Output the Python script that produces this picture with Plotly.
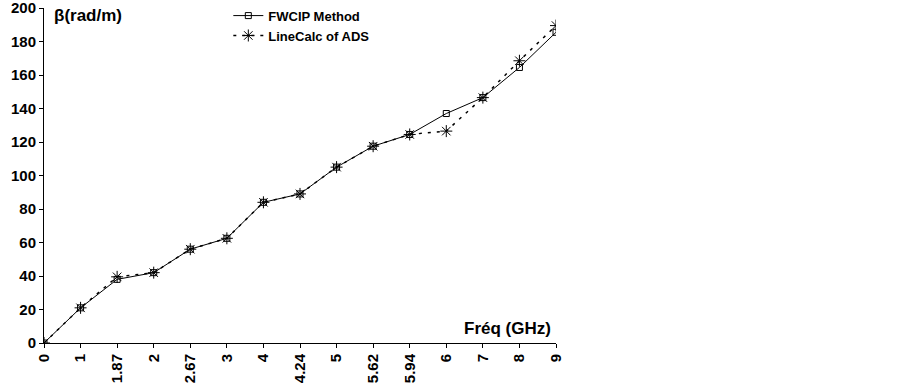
import plotly.graph_objects as go

freq_labels = ["0", "1", "1.87", "2", "2.67", "3", "4", "4.24", "5", "5.62", "5.94", "6", "7", "8", "9"]
fwcip = [0, 21, 38, 42, 56, 62.5, 84, 89, 105, 117.5, 124.5, 137, 146.5, 164.5, 185.5]
linecalc = [0, 21, 39.5, 42, 56, 62.5, 84, 89, 105, 117.5, 124.5, 126.5, 146.5, 168.5, 189.5]
y_ticks = list(range(0, 201, 20))

FONT = "Liberation Sans, Arial, sans-serif"

fig = go.Figure()
fig.add_trace(go.Scatter(
    x=freq_labels, y=fwcip, name="FWCIP Method", mode="lines+markers",
    line=dict(color="black", width=1),
    marker=dict(symbol="square-open", size=6, color="black", line=dict(width=1)),
))
fig.add_trace(go.Scatter(
    x=freq_labels, y=linecalc, name="LineCalc of ADS", mode="lines+markers",
    line=dict(color="black", width=1.5, dash="3px,6px"),
    marker=dict(symbol="asterisk-open", size=10, color="black", line=dict(width=1, color="black")),
))

fig.update_layout(
    width=903, height=385,
    margin=dict(l=44, r=347, t=8, b=42, autoexpand=False),
    paper_bgcolor="white", plot_bgcolor="white",
    font=dict(family=FONT, size=13, color="black", weight="bold"),
    showlegend=True,
    legend=dict(x=0.36, y=1.022, xanchor="left", yanchor="top",
                bgcolor="rgba(0,0,0,0)", font=dict(size=13, weight="bold"),
                tracegroupgap=0, itemwidth=30),
    xaxis=dict(type="category", range=[0, 14], showgrid=False, zeroline=False,
               automargin=False, ticklabeloverflow="allow",
               showline=True, linecolor="black", linewidth=1,
               ticks="outside", ticklen=4, tickcolor="black",
               tickangle=-90, tickfont=dict(size=15, weight="bold")),
    yaxis=dict(range=[0, 200], tickvals=y_ticks, showgrid=False, zeroline=False,
               automargin=False, ticklabeloverflow="allow",
               showline=True, linecolor="black", linewidth=1,
               ticks="outside", ticklen=4, tickcolor="black",
               tickfont=dict(size=15, weight="bold")),
    annotations=[
        dict(text="β(rad/m)", xref="paper", yref="paper", x=0.016, y=1.012,
             xanchor="left", yanchor="top", showarrow=False,
             font=dict(size=17, weight="bold")),
        dict(text="Fréq (GHz)", xref="paper", yref="paper", x=0.995, y=0.01,
             xanchor="right", yanchor="bottom", showarrow=False,
             font=dict(size=17, weight="bold")),
    ],
)

fig.write_html(
    "out.html",
    config={"displayModeBar": False},
    post_script="document.body.style.margin='0';document.body.style.overflow='hidden';",
)
